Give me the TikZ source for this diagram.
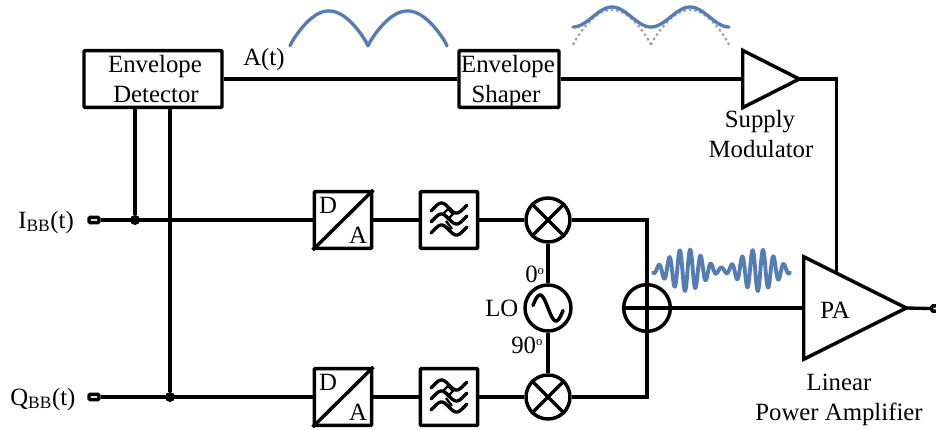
\documentclass[tikz,border=0pt]{standalone}
\usepackage{fontspec}
\setmainfont{Liberation Serif}
\usetikzlibrary{calc}
\definecolor{wave}{RGB}{84,125,180}
\definecolor{dotg}{RGB}{165,165,165}
\newcommand{\degmark}{\raisebox{5.5pt}{\fontsize{9.5}{10}\selectfont o}}
\tikzset{
  x=0.75pt,y=-0.75pt,
  wire/.style={line width=2.5pt,line cap=butt,line join=miter},
  blk/.style={draw,line width=2.6pt,rounded corners=0.6pt,align=center,inner sep=0pt,fill=white},
  sq/.style={blk,minimum width=43pt,minimum height=42.5pt},
  ring/.style={circle,draw,line width=2.6pt,inner sep=0pt,minimum size=33pt},
  lab/.style={inner sep=0pt,font=\fontsize{18.6}{22}\selectfont,anchor=base},
  labw/.style={lab,anchor=base west},
  dot/.style={circle,fill=black,inner sep=0pt,minimum size=7.5pt},
  port/.style={draw,line width=2.6pt,rounded corners=1pt,fill=white,inner sep=0pt,minimum width=7.5pt,minimum height=4pt},
  wavy/.style={color=wave,line width=2.5pt,line cap=round,line join=round},
  rfwave/.style={color=wave,line width=2.9pt,line cap=round,line join=round},
  dotted curve/.style={dotg,line width=1.6pt,dash pattern=on 2pt off 2pt},
  tri/.style={inner sep=0pt},
  triline/.style={draw,line width=2.6pt,line join=miter},
}
\newcommand{\filtericon}[1]{%
  \begin{scope}[shift={(#1)}]
  \foreach \dy in {-12,-1,10}{
    \draw[line width=2.5pt,line cap=round] plot[smooth,domain=-18:18,samples=30,variable=\t]
      (\t,{\dy+5*sin(\t*360/30)});
  }
  \draw[line width=1.8pt] (-1,-11) -- (-6,-6) -- (-1,-1) -- (4,-6) -- cycle;
  \draw[line width=1.8pt] (-3,1) -- (3,9);
  \end{scope}
}
\begin{document}
\begin{tikzpicture}
\useasboundingbox (0,0) rectangle (936,429);

% blocks
\node[blk,minimum width=103.5pt,minimum height=42.5pt] (ed) at (153,79) {};
\node[blk,minimum width=75pt,minimum height=42.5pt] (es) at (509,79) {};
\node[lab] (ed1) at (155,72) {Envelope};
\node[lab] (ed2) at (156,102) {Detector};
\node[lab] (es1) at (508,72) {Envelope};
\node[lab] (es2) at (506,102) {Shaper};

\node[sq] (da1) at (343,220) {};
\node[sq] (da2) at (343,397) {};
\node[sq] (f1) at (449,220) {};
\node[sq] (f2) at (449,397) {};
\node[ring] (m1) at (548,220) {};
\node[ring] (m2) at (548,397) {};
\node[ring,minimum size=34.5pt] (lo) at (548,308) {};
\node[ring,minimum size=35pt] (sum) at (647,308) {};

% triangle anchors
\node[tri,minimum width=42pt,minimum height=42.5pt] (sm) at (771,79) {};
\node[tri,minimum width=76.5pt,minimum height=76.5pt] (pa) at (855,308) {};
\coordinate (paTop) at ($(pa.north west)!0.32!(pa.east)$);
\coordinate (smCorner) at (sm.east -| paTop);
\draw[triline] (sm.north west) -- (sm.east) -- (sm.south west) -- cycle;
\draw[triline] (pa.north west) -- (pa.east) -- (pa.south west) -- cycle;

% ports
\node[port] (pi) at (94,220) {};
\node[port] (pq) at (94,397) {};
\node[port,anchor=west] (po) at (930,308.5) {};

% junctions
\coordinate (j1) at (135,220);
\coordinate (j2) at (170,397);
\node[dot] (d1) at (j1) {};
\node[dot] (d2) at (j2) {};
\coordinate (c1) at (m1 -| sum);
\coordinate (c2) at (m2 -| sum);

% wires
\draw[wire] (ed.east |- es.west) -- (es.west);
\draw[wire] (es.east) -- (sm.west);
\draw[wire] (sm.east) -- (smCorner) -- (paTop);
\draw[wire] (pi.east) -- (da1.west);
\draw[wire] (pq.east) -- (da2.west);
\draw[wire] (da1.east) -- (f1.west);
\draw[wire] (da2.east) -- (f2.west);
\draw[wire] (f1.east) -- (m1.west);
\draw[wire] (f2.east) -- (m2.west);
\draw[wire] (m1.east) -- (c1) -- (c2) -- (m2.east);
\draw[wire] (m1.south) -- (lo.north);
\draw[wire] (lo.south) -- (m2.north);
\draw[wire] (sum.east) -- (pa.west);
\draw[wire] (pa.east) -- (po.west);
\draw[wire] (j1 |- ed.south) -- (d1);
\draw[wire] (j2 |- ed.south) -- (d2);
\draw[wire] (sum.west) -- (sum.east);

% symbol details
\draw[line width=2.6pt] (m1.45) -- (m1.225) (m1.135) -- (m1.315);
\draw[line width=2.6pt] (m2.45) -- (m2.225) (m2.135) -- (m2.315);
\begin{scope}[shift={(lo)}]
\draw[line width=2.6pt,line cap=round] plot[smooth,domain=-15:15,samples=40,variable=\t]
  (\t,{13*sin(\t*360/32)});
\end{scope}
\draw[line width=2.6pt] (da1.south west) -- (da1.north east);
\draw[line width=2.6pt] (da2.south west) -- (da2.north east);
\filtericon{f1}
\filtericon{f2}

% labels
\node[labw] (ta) at (243,65) {A(t)};
\node[lab] (ts1) at (760,127) {Supply};
\node[lab] (ts2) at (761,157) {Modulator};
\node[labw] (ti) at (18,228) {I\textsubscript{BB}(t)};
\node[labw] (tq) at (10,405) {Q\textsubscript{BB}(t)};
\node[labw] (t0) at (525,282) {0\degmark};
\node[labw] (tlo) at (485,316) {LO};
\node[labw] (t90) at (511,353) {90\degmark};
\node[lab] (tpa) at (835,318) {PA};
\node[lab] (tl1) at (839,390) {Linear};
\node[lab] (tl2) at (839,420) {Power Amplifier};
\node[lab] (td1) at (328,213) {D};
\node[lab] (ta1) at (358,243) {A};
\node[lab] (td2) at (328,390) {D};
\node[lab] (ta2) at (358,420) {A};

% waveforms
\draw[wavy] plot[smooth,domain=290:368,samples=40,variable=\t] (\t,{46-35*pow(abs(sin((\t-290)/78*180))+0.001,0.85)});
\draw[wavy] plot[smooth,domain=368:447,samples=40,variable=\t] (\t,{46-35*pow(abs(sin((\t-368)/79*180))+0.001,0.85)});
\draw[dotted curve] plot[smooth,domain=573:651,samples=40,variable=\t] (\t,{45-35*pow(abs(sin((\t-573)/78*180))+0.001,0.85)});
\draw[dotted curve] plot[smooth,domain=651:729,samples=40,variable=\t] (\t,{45-35*pow(abs(sin((\t-651)/78*180))+0.001,0.85)});
\draw[wavy] plot[smooth,domain=573:729,samples=90,variable=\t] (\t,{17-10*cos((\t-612)/78*360)});
\draw[rfwave] plot[smooth,domain=653:790,samples=300,variable=\t]
  (\t,{270+(2.5+18.5*pow(sin((\t-650)/72*180),2))*sin((\t-685)/10.4*360+90)});
\end{tikzpicture}
\end{document}
